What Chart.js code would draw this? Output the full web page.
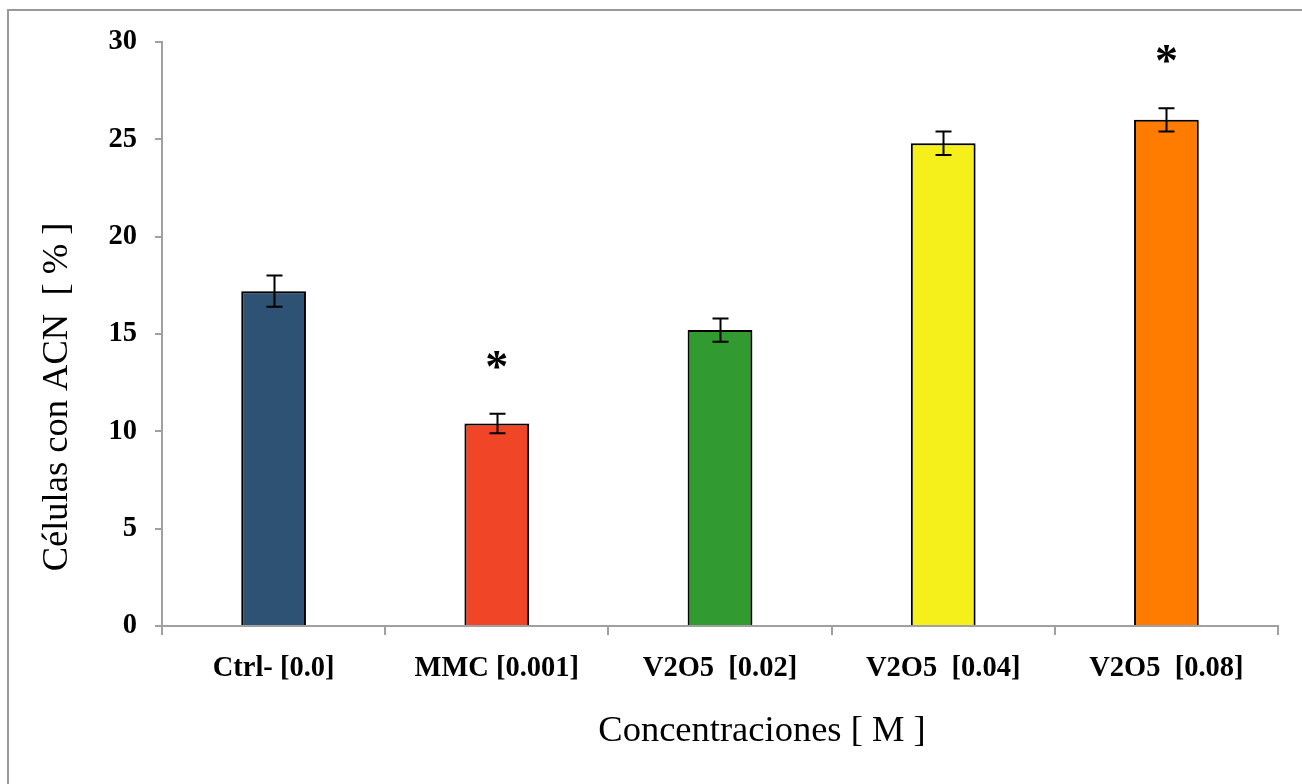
<!DOCTYPE html>
<html>
<head>
<meta charset="utf-8">
<script src="https://cdn.jsdelivr.net/npm/chart.js@4/dist/chart.umd.min.js"></script>
<style>
  html, body { margin: 0; padding: 0; background: #ffffff; }
  #wrap { width: 1302px; height: 784px; position: relative; }
</style>
</head>
<body>
<div id="wrap"><canvas id="c" width="1302" height="784"></canvas></div>
<script>
// Micronucleus frequency by treatment
const categories = ['Ctrl- [0.0]', 'MMC [0.001]', 'V2O5  [0.02]', 'V2O5  [0.04]', 'V2O5  [0.08]'];
const values = [17.2, 10.4, 15.2, 24.8, 26.0];
const errors = [0.8, 0.5, 0.6, 0.6, 0.6];
const significant = [false, true, false, false, true];
const barColors = ['#2d5273', '#f04526', '#319a31', '#f5f01b', '#ff7c00'];
const yTicks = [0, 5, 10, 15, 20, 25, 30];
const yTitle = 'Células con ACN  [ % ]';
const xTitle = 'Concentraciones [ M ]';

const SERIF = "'Liberation Serif', 'Times New Roman', serif";

const frame = {
  id: 'frame',
  beforeDraw(chart) {
    const ctx = chart.ctx;
    ctx.save();
    ctx.strokeStyle = '#9a9a9a';
    ctx.lineWidth = 2;
    ctx.beginPath();
    ctx.moveTo(8, 785);
    ctx.lineTo(8, 10);
    ctx.lineTo(1303, 10);
    ctx.stroke();
    ctx.restore();
  }
};

const barShadow = {
  id: 'barShadow',
  beforeDatasetsDraw(chart) {
    const ctx = chart.ctx;
    ctx.save();
    ctx.shadowColor = 'rgba(0,0,0,0.28)';
    ctx.shadowBlur = 4;
    ctx.shadowOffsetX = 1;
    ctx.shadowOffsetY = 1;
  },
  afterDatasetsDraw(chart) {
    chart.ctx.restore();
  }
};

const annotations = {
  id: 'annotations',
  afterDatasetsDraw(chart) {
    const ctx = chart.ctx;
    const y = chart.scales.y;
    const meta = chart.getDatasetMeta(0);
    ctx.save();
    // error bars
    ctx.strokeStyle = '#000';
    ctx.lineWidth = 2;
    meta.data.forEach((bar, i) => {
      const x = Math.round(bar.x) + 0.5;
      const hi = y.getPixelForValue(values[i] + errors[i]);
      const lo = y.getPixelForValue(values[i] - errors[i]);
      const cap = 8;
      ctx.beginPath();
      ctx.moveTo(x, hi); ctx.lineTo(x, lo);
      ctx.moveTo(x - cap, hi); ctx.lineTo(x + cap, hi);
      ctx.moveTo(x - cap, lo); ctx.lineTo(x + cap, lo);
      ctx.stroke();
    });
    // significance marks
    ctx.fillStyle = '#000';
    ctx.font = 'bold 46px ' + SERIF;
    ctx.textAlign = 'center';
    ctx.textBaseline = 'alphabetic';
    meta.data.forEach((bar, i) => {
      if (!significant[i]) return;
      const top = y.getPixelForValue(values[i] + errors[i]);
      ctx.fillText('*', bar.x, top - 32);
    });
    // axis titles
    ctx.font = '36.5px ' + SERIF;
    ctx.textBaseline = 'middle';
    ctx.fillText(xTitle, 762, 731);
    ctx.translate(57, 397);
    ctx.rotate(-Math.PI / 2);
    ctx.fillText(yTitle, 0, 0);
    ctx.restore();
  }
};

new Chart(document.getElementById('c'), {
  type: 'bar',
  data: {
    labels: categories,
    datasets: [{
      data: values,
      backgroundColor: barColors,
      borderColor: '#000',
      borderWidth: 2,
      barPercentage: 0.29,
      categoryPercentage: 1.0
    }]
  },
  options: {
    responsive: false,
    animation: false,
    devicePixelRatio: 1,
    layout: { padding: { left: 0, top: 42, right: 24, bottom: 0 } },
    plugins: { legend: { display: false }, tooltip: { enabled: false } },
    scales: {
      x: {
        grid: { offset: true, drawOnChartArea: false, drawTicks: true, tickLength: 9, color: '#a0a0a0', lineWidth: 2 },
        border: { color: '#a0a0a0', width: 2 },
        ticks: { color: '#000', font: { family: SERIF, size: 28.5, weight: 'bold' }, padding: 17, maxRotation: 0 },
        afterFit(scale) { scale.height = 158; }
      },
      y: {
        min: 0, max: 30,
        afterBuildTicks(scale) { scale.ticks = yTicks.map(v => ({ value: v })); },
        grid: { drawOnChartArea: false, drawTicks: true, tickLength: 7, color: '#a0a0a0', lineWidth: 2 },
        border: { color: '#a0a0a0', width: 2 },
        ticks: { color: '#000', font: { family: SERIF, size: 28.5, weight: 'bold' }, padding: 18 },
        afterFit(scale) { scale.width = 162; }
      }
    }
  },
  plugins: [frame, barShadow, annotations]
});
</script>
</body>
</html>
